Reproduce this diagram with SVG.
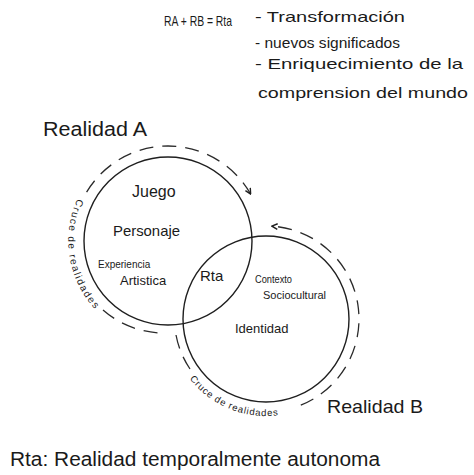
<svg xmlns="http://www.w3.org/2000/svg" width="474" height="475" viewBox="0 0 474 475">
<defs>
<style>
text{font-family:"Liberation Sans","DejaVu Sans",sans-serif;fill:#1a1a1a}
.c{fill:none;stroke:#1f1f1f;stroke-width:1.4}
.d{fill:none;stroke:#2a2a2a;stroke-width:1.3;stroke-dasharray:14 9}
</style>
<marker id="ah" viewBox="0 0 10 10" refX="8" refY="5" markerWidth="7" markerHeight="7" orient="auto" markerUnits="userSpaceOnUse">
<path d="M1,1 L9,5 L1,9" fill="none" stroke="#1f1f1f" stroke-width="2"/>
</marker>
<path id="tpA" d="M77.4,198.7 A101,101 0 0 0 99.8,314.1"/>
<path id="tpB" d="M189.6,378.7 A97,97 0 0 0 289.5,413.1"/>
</defs>
<rect width="474" height="475" fill="#fff"/>

<g id="formula">
<text x="164" y="26" font-size="15" textLength="68" lengthAdjust="spacingAndGlyphs">RA + RB = Rta</text>
</g>
<g id="list">
<text x="255" y="22" font-size="15" textLength="150" lengthAdjust="spacingAndGlyphs">- Transformación</text>
<text x="255" y="48" font-size="15" textLength="145" lengthAdjust="spacingAndGlyphs">- nuevos significados</text>
<text x="255" y="69" font-size="15" textLength="208" lengthAdjust="spacingAndGlyphs">- Enriquecimiento de la</text>
<text x="258" y="98" font-size="15" textLength="210" lengthAdjust="spacingAndGlyphs">comprension del mundo</text>
</g>

<g id="realidadA">
<circle class="c" cx="168" cy="241" r="84"/>
<text x="43" y="136" font-size="20" textLength="104" lengthAdjust="spacingAndGlyphs">Realidad A</text>
<text x="132" y="197" font-size="16">Juego</text>
<text x="113" y="236" font-size="15" textLength="67" lengthAdjust="spacingAndGlyphs">Personaje</text>
<text x="98" y="268" font-size="10">Experiencia</text>
<text x="120" y="285" font-size="13">Artistica</text>
</g>

<g id="realidadB">
<circle class="c" cx="266" cy="319" r="83"/>
<text x="255" y="283" font-size="11" textLength="37" lengthAdjust="spacingAndGlyphs">Contexto</text>
<text x="263" y="299" font-size="11">Sociocultural</text>
<text x="235" y="333" font-size="13">Identidad</text>
<text x="327" y="413" font-size="19" textLength="96" lengthAdjust="spacingAndGlyphs">Realidad B</text>
</g>

<g id="rta">
<text x="200" y="281" font-size="15">Rta</text>
</g>

<g id="connectors">
<path class="d" d="M86.6,192.1 A95,95 0 0 1 250.3,193.5" marker-end="url(#ah)"/>
<path class="d" d="M103,310 A93,93 0 0 0 162,333" stroke-dasharray="22 18 18"/>
<path class="d" d="M300.8,405.2 A93,93 0 0 0 272.6,226.2" marker-end="url(#ah)"/>
<path class="d" d="M176,335 A91,91 0 0 0 190,369" stroke-dasharray="22 4 10"/>
</g>

<g id="cruceA">
<text font-size="10"><textPath href="#tpA" textLength="118" lengthAdjust="spacing">Cruce de realidades</textPath></text>
</g>
<g id="cruceB">
<text font-size="9.5"><textPath href="#tpB" textLength="100" lengthAdjust="spacing">Cruce de realidades</textPath></text>
</g>

<g id="nota">
<text x="10" y="466" font-size="20" textLength="370" lengthAdjust="spacingAndGlyphs">Rta: Realidad temporalmente autonoma</text>
</g>
</svg>
